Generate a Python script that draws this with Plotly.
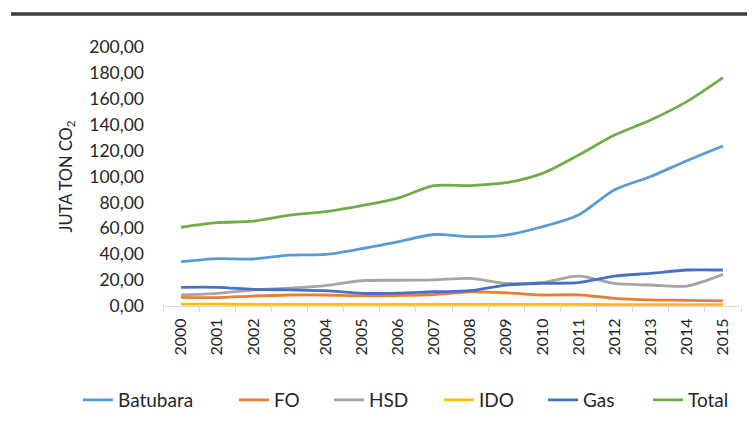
import plotly.graph_objects as go

years = [str(y) for y in range(2000, 2016)]
batubara = [34.2, 36.6, 36.3, 39.3, 39.8, 44.3, 49.6, 55.2, 53.6, 54.8, 61.2, 70.3, 89.7, 100.0, 112.2, 123.6]
fo = [6.6, 6.5, 7.7, 8.5, 8.5, 7.8, 8.1, 8.8, 10.9, 10.2, 8.5, 8.6, 5.9, 4.7, 4.4, 3.9]
hsd = [8.6, 9.8, 12.3, 13.8, 15.8, 19.5, 19.9, 20.2, 21.3, 17.5, 18.2, 23.1, 17.4, 16.2, 15.4, 24.4]
ido = [1.4, 1.4, 1.3, 1.3, 1.2, 1.2, 1.2, 1.2, 1.2, 1.2, 1.2, 1.2, 1.1, 1.1, 1.1, 1.1]
gas = [14.4, 14.4, 12.9, 12.4, 11.8, 9.8, 9.9, 11.0, 11.8, 16.2, 17.5, 18.0, 23.1, 25.2, 27.8, 27.8]
total = [60.8, 64.3, 65.6, 70.2, 72.9, 77.5, 83.3, 92.9, 93.0, 95.2, 102.4, 116.5, 132.0, 143.6, 157.8, 176.3]

series = [
    ("Batubara", batubara, "#5B9BD5"),
    ("FO", fo, "#ED7D31"),
    ("HSD", hsd, "#A5A5A5"),
    ("IDO", ido, "#FFC000"),
    ("Gas", gas, "#4472C4"),
    ("Total", total, "#70AD47"),
]

FONT = "Lato"
TXT = "#262626"

# layout geometry (figure px; page is offset by the 8px body margin)
W, H = 747, 426
L, R, T, B = 155, 14, 39, 128
PW = W - L - R
PH = H - T - B

# legend entry left positions (figure px)
legend_x_px = [70, 226, 321, 431, 535, 640]

fig = go.Figure()
for i, (name, vals, col) in enumerate(series):
    lg = "legend" if i == 0 else f"legend{i+1}"
    fig.add_trace(go.Scatter(
        x=years, y=vals, name=name, mode="lines", legend=lg,
        line=dict(color=col, width=2.8, shape="spline", smoothing=0.8),
    ))

legends = {}
for i, px in enumerate(legend_x_px):
    key = "legend" if i == 0 else f"legend{i+1}"
    legends[key] = dict(
        orientation="h", x=(px - L) / PW, xanchor="left",
        y=-0.363, yanchor="middle",
        font=dict(family=FONT, size=19, color=TXT), bgcolor="rgba(0,0,0,0)",
    )

fig.update_layout(
    width=W, height=H,
    margin=dict(l=L, r=R, t=T, b=B),
    paper_bgcolor="white", plot_bgcolor="white",
    font=dict(family=FONT, size=17, color=TXT),
    separators=", ",
    showlegend=True,
    xaxis=dict(
        type="category", range=[-0.5, 15.5],
        tickangle=-90, tickson="boundaries", ticks="outside", ticklen=5,
        tickcolor="#d9d9d9", showline=True, linecolor="#d9d9d9", linewidth=1,
        showgrid=False, zeroline=False, ticklabelstandoff=5,
        tickfont=dict(size=16, color=TXT),
    ),
    yaxis=dict(
        range=[0, 200], dtick=20, tickformat=".2f",
        showgrid=False, zeroline=False, showline=False,
        ticks="", ticklabelstandoff=18, tickfont=dict(size=17.5, color=TXT),
        title=dict(text="JUTA TON CO<sub>2</sub>", font=dict(size=16.5, color=TXT), standoff=12),
    ),
    shapes=[dict(
        type="line", xref="paper", yref="paper",
        x0=(3 - L) / PW, x1=(W - L) / PW,
        y0=(PH + T - 6) / PH, y1=(PH + T - 6) / PH,
        line=dict(color="#3c3c3c", width=3.5),
    )],
    **legends,
)

fig.write_html("out.html")
